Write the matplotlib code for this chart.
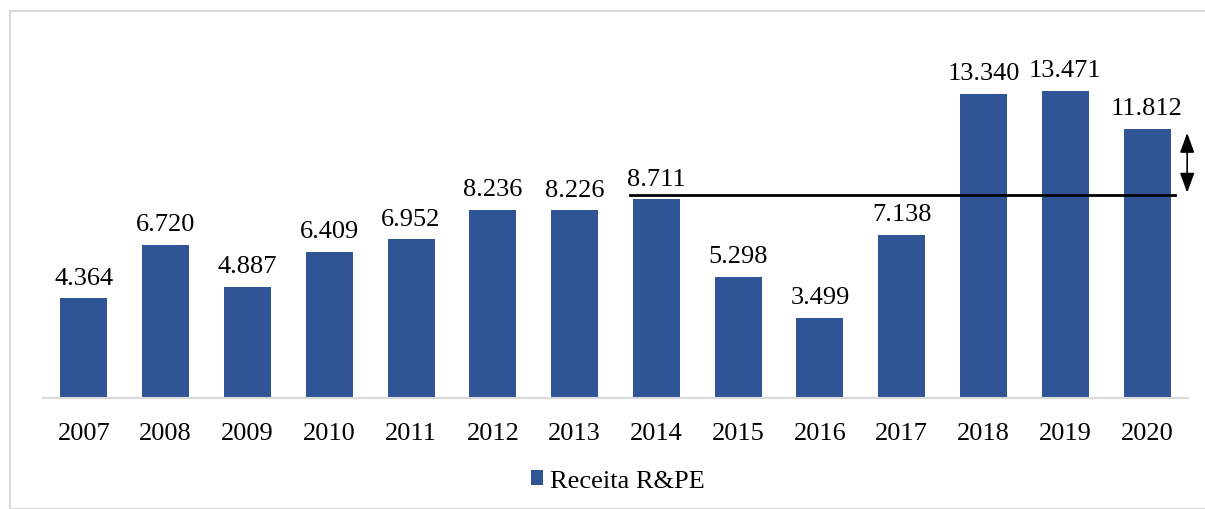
import matplotlib.pyplot as plt
from matplotlib.patches import Rectangle

# Data
anos = ["2007", "2008", "2009", "2010", "2011", "2012", "2013",
        "2014", "2015", "2016", "2017", "2018", "2019", "2020"]
receita = [4.364, 6.720, 4.887, 6.409, 6.952, 8.236, 8.226,
           8.711, 5.298, 3.499, 7.138, 13.340, 13.471, 11.812]
rotulos = ["4.364", "6.720", "4.887", "6.409", "6.952", "8.236", "8.226",
           "8.711", "5.298", "3.499", "7.138", "13.340", "13.471", "11.812"]

plt.rcParams["font.family"] = ["Liberation Serif", "DejaVu Serif"]

fig = plt.figure(figsize=(12.05, 5.1), dpi=100)
ax = fig.add_axes([43 / 1205, 111 / 510, 1145 / 1205, 365 / 510])

x = range(len(anos))
bars = ax.bar(x, receita, width=0.575, color="#2F5597", label="Receita R&PE")

for xi, v, t in zip(x, receita, rotulos):
    ax.annotate(t, (xi, v), xytext=(0, 7), textcoords="offset points",
                ha="center", va="bottom", fontsize=19)

# reference line and arrow
ax.plot([6.68, 13.34], [8.9, 8.9], color="black", lw=2, clip_on=False)
ax.annotate("", xy=(13.49, 9.0), xytext=(13.49, 11.62),
            arrowprops=dict(arrowstyle="<|-|>,head_length=0.6,head_width=0.22",
                            color="black", lw=1.2, mutation_scale=20,
                            shrinkA=0, shrinkB=0),
            annotation_clip=False)

ax.set_xlim(-0.5, 13.5)
ax.set_ylim(0, 16)
ax.set_xticks(list(x))
ax.set_xticklabels(anos, fontsize=19)
ax.tick_params(axis="x", length=0, pad=17)
ax.set_yticks([])
for s in ["top", "right", "left"]:
    ax.spines[s].set_visible(False)
ax.spines["bottom"].set_color("#D9D9D9")
ax.spines["bottom"].set_linewidth(1.5)

fig.legend(handles=[bars], labels=["Receita R&PE"], loc="center",
           bbox_to_anchor=(618 / 1205, 1 - 482 / 510), frameon=False,
           fontsize=19, handlelength=0.46, handleheight=0.46, handletextpad=0.25)

# outer frame
fig.patches.append(Rectangle((10 / 1205, 0), 1.2, 1 - 12 / 510,
                             transform=fig.transFigure, fill=False,
                             edgecolor="#D9D9D9", lw=1.5))

fig.savefig("out.png", dpi=100)
